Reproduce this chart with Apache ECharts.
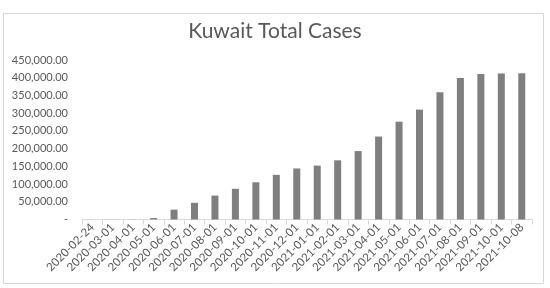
<!DOCTYPE html>
<html>
<head>
<meta charset="utf-8">
<script src="https://cdn.jsdelivr.net/npm/echarts@6/dist/echarts.min.js"></script>
<style>
  html, body { margin: 0; padding: 0; background: #fff; }
  #chart { width: 550px; height: 288px; }
</style>
</head>
<body>
<div id="chart"></div>
<script>
// dates and cumulative cases
var dates = ['2020-02-24', '2020-03-01', '2020-04-01', '2020-05-01', '2020-06-01', '2020-07-01',
  '2020-08-01', '2020-09-01', '2020-10-01', '2020-11-01', '2020-12-01', '2021-01-01',
  '2021-02-01', '2021-03-01', '2021-04-01', '2021-05-01', '2021-06-01', '2021-07-01',
  '2021-08-01', '2021-09-01', '2021-10-01', '2021-10-08'];
var cases = [5, 45, 320, 4000, 27800, 47000, 67500, 86500, 105000, 126000, 144000, 152000,
  167000, 193000, 234000, 276000, 310000, 359000, 399000, 410500, 412000, 412500];

var yMin = 0, yMax = 450000, yStep = 50000;

var chart = echarts.init(document.getElementById('chart'));

function fmt(v) {
  if (v === 0) return '-';
  return v.toLocaleString('en-US', { minimumFractionDigits: 2, maximumFractionDigits: 2 });
}

var option = {
  animation: false,
  textStyle: { fontFamily: 'Lato' },
  title: {
    text: 'Kuwait Total Cases',
    left: 'center',
    top: 16,
    textStyle: { fontFamily: 'Lato', fontSize: 21, fontWeight: 'normal', color: '#595959' }
  },
  graphic: [{
    type: 'rect',
    shape: { x: 3.5, y: 13.5, width: 540, height: 270 },
    style: { fill: 'none', stroke: '#d9d9d9', lineWidth: 1 },
    silent: true
  }],
  grid: { left: 82, right: 18, top: 60, bottom: 68.5 },
  xAxis: {
    type: 'category',
    data: dates,
    axisLine: { lineStyle: { color: '#d9d9d9' } },
    axisTick: { show: true, length: 5, lineStyle: { color: '#d9d9d9' } },
    axisLabel: { rotate: 45, interval: 0, fontSize: 11.5, color: '#595959', margin: 6 }
  },
  yAxis: {
    type: 'value',
    min: yMin,
    max: yMax,
    interval: yStep,
    splitLine: { show: false },
    axisLine: { show: false },
    axisTick: { show: false },
    axisLabel: { fontSize: 11, color: '#595959', margin: 14, formatter: fmt }
  },
  series: [{
    type: 'bar',
    data: cases,
    barWidth: 7,
    itemStyle: { color: '#7f7f7f' }
  }]
};

chart.setOption(option);
</script>
</body>
</html>
